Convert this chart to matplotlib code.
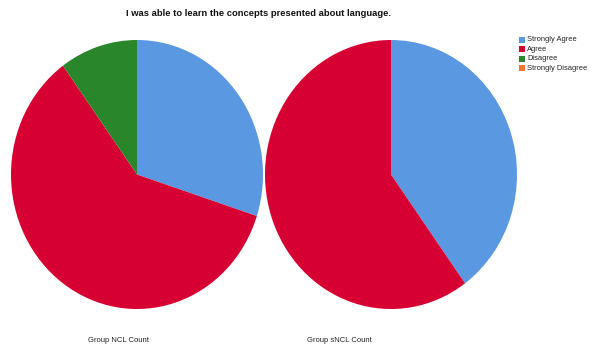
import matplotlib
matplotlib.use("Agg")
import matplotlib.pyplot as plt
from matplotlib.patches import Rectangle

plt.rcParams['font.family'] = ['Liberation Sans', 'DejaVu Sans']

title = "I was able to learn the concepts presented about language."
categories = ["Strongly Agree", "Agree", "Disagree", "Strongly Disagree"]
colors = ["#5A98E2", "#D60032", "#2A862A", "#F07538"]
group_labels = ["Group NCL Count", "Group sNCL Count"]
ncl_counts = [3, 6, 1, 0]
sncl_counts = [4, 6, 0, 0]

W, H = 603, 349
fig = plt.figure(figsize=(W / 100, H / 100), dpi=100)
fig.patch.set_facecolor("white")

def px_axes(x0, y0, w, h):
    return fig.add_axes([x0 / W, 1 - (y0 + h) / H, w / W, h / H])

pie_boxes = [(11, 40, 252, 269), (265, 40, 252, 269)]
label_x = [118, 339.5]

for (x0, y0, w, h), counts, lab, lx in zip(pie_boxes, [ncl_counts, sncl_counts],
                                            group_labels, label_x):
    ax = px_axes(x0, y0, w, h)
    vals = [v for v in counts if v > 0]
    cols = [c for v, c in zip(counts, colors) if v > 0]
    ax.pie(vals, colors=cols, startangle=90, counterclock=False, radius=1,
           wedgeprops=dict(linewidth=0))
    ax.set_aspect("auto")
    ax.set_xlim(-1, 1)
    ax.set_ylim(-1, 1)
    ax.axis("off")
    fig.text(lx / W, 1 - 340.5 / H, lab, ha="center", va="center",
             fontsize=5.5, color="#222222")

fig.text(259 / W, 1 - 13 / H, title, ha="center", va="center",
         fontsize=6.75, fontweight="bold", color="#111111")

# legend
leg_y = [39.7, 49.3, 58.7, 68.3]
for cat, col, y in zip(categories, colors, leg_y):
    fig.patches.append(Rectangle((519 / W, 1 - (y + 3) / H), 6 / W, 6 / H,
                                 transform=fig.transFigure, facecolor=col,
                                 edgecolor="none"))
    fig.text(527 / W, 1 - y / H, cat, ha="left", va="center",
             fontsize=5.4, color="#222222")

fig.savefig("out.png", dpi=100, facecolor="white")
